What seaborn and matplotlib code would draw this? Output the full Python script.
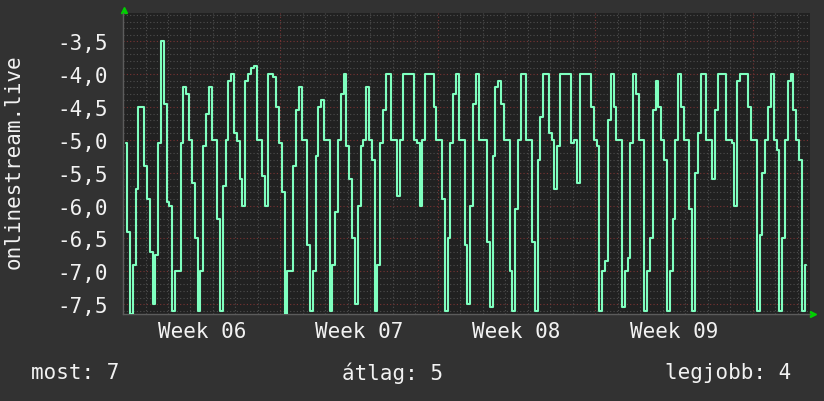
import pandas as pd
import seaborn as sns
import matplotlib.pyplot as plt
import matplotlib.dates as mdates
from matplotlib.ticker import MultipleLocator, FuncFormatter
from matplotlib.transforms import blended_transform_factory

# 3 óránkénti minták, a 6. hét hétfőjétől
start = '2024-02-05 03:00'
step = '3h'
rank = [
    -5.05, -6.4, -7.65, -6.9, -5.75, -4.5, -4.5, -5.4,
    -5.9, -6.7, -7.5, -6.75, -5.05, -3.5, -4.45, -5.95,
    -6.0, -7.6, -7.0, -7.0, -5.05, -4.2, -4.3, -5.0,
    -5.65, -6.5, -7.6, -7.0, -5.1, -4.6, -4.2, -5.0,
    -5.0, -6.2, -7.6, -5.7, -5.0, -4.1, -4.0, -4.9,
    -5.02, -5.6, -6.0, -4.1, -4.0, -3.9, -3.87, -5.0,
    -5.0, -5.55, -6.0, -4.0, -4.0, -4.05, -4.5, -5.05,
    -5.8, -7.65, -7.0, -7.0, -5.4, -4.55, -4.2, -5.0,
    -5.0, -6.6, -7.6, -7.0, -5.25, -4.5, -4.4, -5.0,
    -5.0, -7.6, -6.9, -6.1, -5.0, -4.3, -4.0, -5.1,
    -5.6, -6.5, -7.5, -6.0, -5.1, -5.0, -4.2, -5.0,
    -5.3, -7.6, -6.9, -5.05, -4.55, -4.0, -4.0, -5.0,
    -5.0, -5.85, -5.0, -4.0, -4.0, -4.0, -4.0, -5.0,
    -5.05, -6.0, -5.0, -4.0, -4.0, -4.0, -4.5, -5.0,
    -5.0, -5.9, -7.6, -6.5, -5.05, -4.3, -4.0, -5.0,
    -5.0, -6.6, -7.5, -6.0, -4.45, -4.0, -5.0, -5.0,
    -5.0, -6.55, -7.55, -5.25, -4.2, -4.1, -4.45, -5.0,
    -5.0, -7.0, -7.6, -6.05, -5.0, -4.0, -4.0, -5.0,
    -5.0, -6.55, -7.6, -5.3, -4.65, -4.0, -4.0, -4.9,
    -5.0, -5.75, -5.1, -4.0, -4.0, -4.0, -4.0, -5.05,
    -5.0, -5.65, -4.0, -4.0, -4.0, -4.0, -4.5, -5.0,
    -5.1, -7.6, -7.0, -6.85, -4.7, -4.0, -4.5, -5.0,
    -5.0, -7.55, -7.0, -6.8, -5.05, -4.0, -4.3, -5.0,
    -5.0, -7.6, -7.0, -6.5, -4.55, -4.1, -4.5, -5.0,
    -5.3, -7.6, -7.0, -6.2, -5.0, -4.0, -4.5, -5.0,
    -5.0, -6.05, -7.6, -5.5, -4.9, -4.0, -4.0, -5.0,
    -5.0, -5.6, -4.55, -4.0, -4.0, -4.0, -5.0, -5.0,
    -5.05, -6.0, -4.1, -4.0, -4.0, -4.0, -4.5, -5.0,
    -5.0, -7.6, -6.45, -5.5, -5.0, -4.5, -4.0, -5.0,
    -5.15, -7.6, -6.5, -5.0, -4.1, -4.0, -4.55, -5.0,
    -5.3, -7.6, -6.9,
]
week_starts = ['2024-02-05', '2024-02-12', '2024-02-19', '2024-02-26']
summary = ['most: 7', 'átlag: 5', 'legjobb: 4']
ylabel = 'onlinestream.live'

bg = '#323232'
plot_bg = '#212121'
line_col = '#7fffbf'
txt = '#f2f2f2'

sns.set_style('dark', rc={'axes.facecolor': plot_bg, 'figure.facecolor': bg,
                          'axes.edgecolor': '#5c5c5c', 'text.color': txt,
                          'xtick.color': txt, 'ytick.color': txt})
plt.rcParams['font.family'] = ['DejaVu Sans Mono']

df = pd.DataFrame({'time': pd.date_range(start, periods=len(rank), freq=step), 'rank': rank})

fig, ax = plt.subplots(figsize=(8.24, 4.02), dpi=100)
fig.subplots_adjust(left=0.1493, right=0.983, bottom=0.2164, top=0.9652)

sns.lineplot(data=df, x='time', y='rank', ax=ax, color=line_col, lw=1.5, zorder=3,
             drawstyle='steps-mid')

t0 = pd.Timestamp(week_starts[0])
ax.set_xlim(mdates.date2num(t0), mdates.date2num(t0 + pd.Timedelta(days=30.55)))
ax.set_ylim(-7.65, -3.07)

# rács: hetek pirossal, napok szürkével
ax.xaxis.set_major_locator(mdates.WeekdayLocator(byweekday=mdates.MO))
ax.xaxis.set_minor_locator(mdates.DayLocator())
ax.yaxis.set_major_locator(MultipleLocator(0.5))
ax.yaxis.set_minor_locator(MultipleLocator(0.1))
ax.yaxis.set_major_formatter(FuncFormatter(lambda v, p: f'{v:.1f}'.replace('.', ',')))
ax.grid(which='major', color='#7a3434', ls=(0, (1, 2)), lw=0.8)
ax.grid(which='minor', color='#4e4e4e', ls=(0, (1, 2)), lw=0.8)
ax.set_axisbelow(True)

ax.tick_params(axis='x', which='both', labelbottom=False)
ax.tick_params(axis='x', which='major', length=3, color='#b03a3a')
ax.tick_params(axis='x', which='minor', length=2, color='#606060')
ax.tick_params(axis='y', which='both', length=0, pad=11, labelsize=15)

for s in ['top', 'right']:
    ax.spines[s].set_visible(False)
for s in ['left', 'bottom']:
    ax.spines[s].set_color('#5c5c5c')
    ax.spines[s].set_linewidth(1)

ax.set_xlabel('')
ax.set_ylabel('')

tr = blended_transform_factory(ax.transData, ax.transAxes)
for w in week_starts:
    d = pd.Timestamp(w)
    ax.text(mdates.date2num(d + pd.Timedelta(days=3.5)), -0.058, d.strftime('Week %V'),
            transform=tr, ha='center', va='center', fontsize=15, color=txt)

# zöld nyilak a tengelyek végén
ax.plot([0.002], [1.01], marker='^', ms=4, color='#00d000', transform=ax.transAxes, clip_on=False)
ax.plot([1.005], [0.001], marker='>', ms=4, color='#00d000', transform=ax.transAxes, clip_on=False)

fig.text(0.016, 0.598, ylabel, rotation=90, ha='center', va='center', fontsize=15, color=txt)
fig.text(0.038, 0.071, summary[0], ha='left', va='center', fontsize=15, color=txt)
fig.text(0.476, 0.071, summary[1], ha='center', va='center', fontsize=15, color=txt)
fig.text(0.960, 0.071, summary[2], ha='right', va='center', fontsize=15, color=txt)

fig.savefig('out.png', dpi=100, facecolor=bg)
